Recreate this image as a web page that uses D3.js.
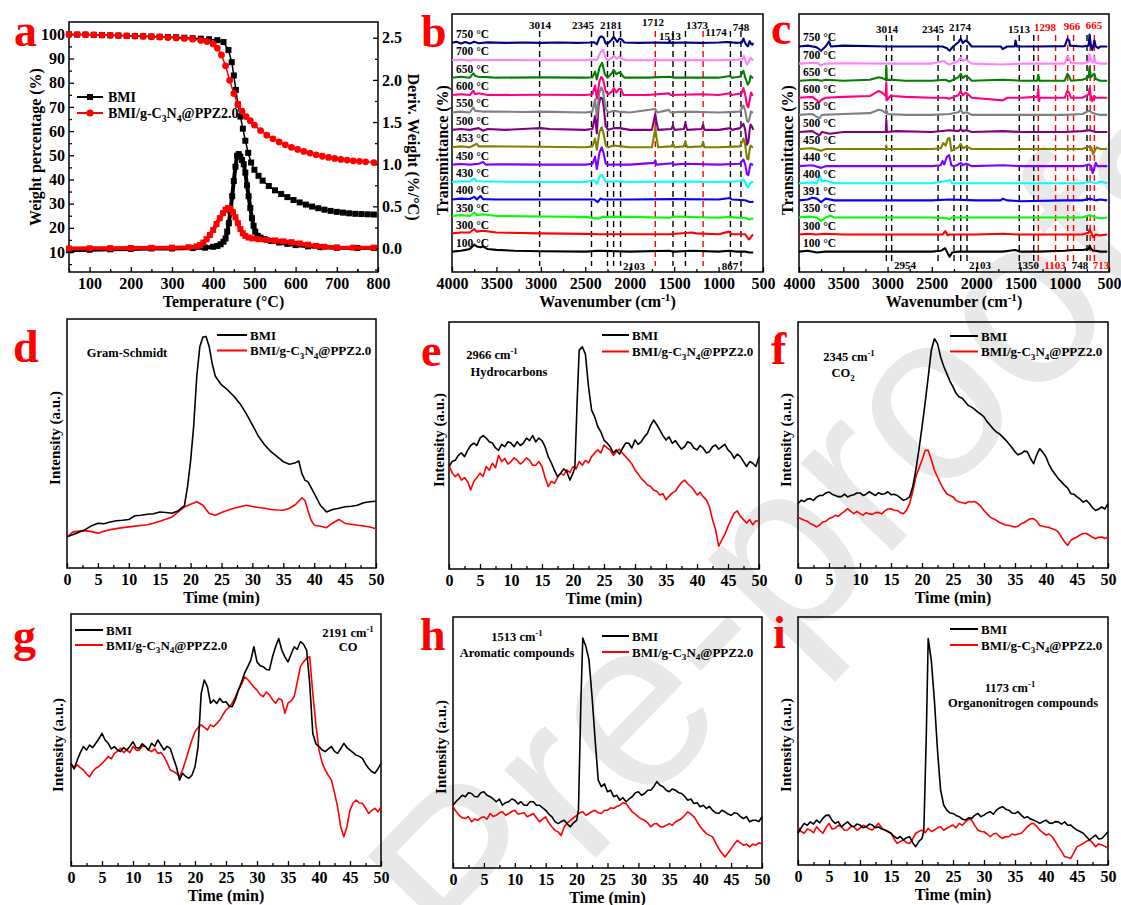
<!DOCTYPE html>
<html><head><meta charset="utf-8">
<script src="https://cdn.jsdelivr.net/npm/d3@7"></script>
<style>body{margin:0;background:#fff}</style>
</head><body>
<script>
// ================= DATA =================
// (a) TGA / DTG
const tgaBmiT = [50,70,90,110,130,150,170,190,210,230,250,270,290,310,330,350,370,390,410,425,437,445,450,455,460,466,472,478,485,492,500,510,520,535,550,565,580,595,610,625,640,655,670,685,700,715,730,745,760,775,790];
const tgaBmiW = [100,99.9,99.9,99.8,99.7,99.6,99.5,99.4,99.3,99.2,99.1,99,98.9,98.8,98.6,98.4,98.2,98,97.6,96.8,93.5,88.5,83,77,71,66,61,56,51,47,44,41.5,39.5,37.3,35.5,34,32.7,31.5,30.5,29.6,28.8,28.1,27.5,27,26.6,26.3,26,25.8,25.7,25.6,25.5];
const tgaPpzT = [50,70,90,110,130,150,170,190,210,230,250,270,290,310,330,350,370,385,400,410,420,430,440,450,460,470,480,490,500,515,530,545,560,575,590,605,620,635,650,665,680,695,710,725,740,755,770,790];
const tgaPpzW = [100,99.9,99.9,99.8,99.7,99.6,99.5,99.4,99.3,99.2,99,98.9,98.7,98.5,98.3,98,97.5,97,96,94.3,91.5,87,81,75.5,71,68.2,66,64.3,62.5,60.2,58.3,56.8,55.5,54.3,53.3,52.4,51.6,50.9,50.2,49.6,49.1,48.7,48.3,48,47.7,47.5,47.3,47];
const dtgBmiT = [50,100,150,200,250,300,350,380,400,410,418,425,430,434,438,442,446,450,454,458,462,466,470,474,478,482,486,490,494,498,502,508,515,525,540,560,580,600,630,660,700,750,790];
const dtgBmiV = [-0.02,-0.015,-0.01,-0.005,0,0,0.005,0.01,0.02,0.03,0.05,0.08,0.12,0.2,0.3,0.44,0.62,0.8,0.97,1.1,1.12,1.09,1.05,1.0,0.9,0.75,0.62,0.48,0.36,0.27,0.2,0.15,0.13,0.11,0.09,0.07,0.055,0.04,0.025,0.015,0.008,0.005,0.005];
const dtgPpzT = [50,100,150,200,250,300,340,360,368,376,384,392,400,408,416,424,430,436,442,448,454,460,466,472,478,486,495,510,530,550,570,590,610,630,650,670,700,740,790];
const dtgPpzV = [0,0.002,0.004,0.006,0.008,0.01,0.015,0.025,0.04,0.07,0.11,0.16,0.22,0.29,0.36,0.42,0.46,0.48,0.47,0.43,0.37,0.3,0.23,0.18,0.15,0.13,0.12,0.11,0.1,0.095,0.085,0.075,0.06,0.045,0.03,0.02,0.012,0.01,0.01];
const tempTicks = [100,200,300,400,500,600,700,800];
const weightTicks = [10,20,30,40,50,60,70,80,90,100];
const derivTicks = [0,0.5,1.0,1.5,2.0,2.5];

// (b),(c) FTIR spectra: [wavenumber, offset-relative signal]
const bTemps = ["100 °C","300 °C","350 °C","400 °C","430 °C","450 °C","453 °C","500 °C","550 °C","600 °C","650 °C","700 °C","750 °C"];
const cTemps = ["100 °C","300 °C","350 °C","391 °C","400 °C","440 °C","450 °C","500 °C","550 °C","600 °C","650 °C","700 °C","750 °C"];
const b100 = [[4000,0],[3900,0.05],[3850,0.1],[3800,0.15],[3750,0.4],[3720,0.3],[3680,0.25],[3650,0.3],[3600,0.15],[3500,0.1],[3300,0.05],[3000,0.02],[2500,0],[2350,0.05],[2000,0],[1560,0.05],[1500,0],[1300,0.05],[1000,0],[880,0.05],[800,0],[700,0],[650,-0.05],[610,-0.05]];
const b300 = [[4000,0.05],[3900,0.1],[3800,0.1],[3750,0.3],[3720,0.15],[3650,0.2],[3500,0.1],[3000,0.05],[2500,0.02],[2350,0],[2000,0],[1550,0],[1300,0.1],[1250,0.05],[1000,0],[880,0.15],[850,0],[700,0],[660,-0.3],[640,-0.2],[620,-0.05],[610,-0.05]];
const b350 = [[4000,0.05],[3900,0.1],[3800,0.05],[3750,0.25],[3720,0.1],[3650,0.15],[3500,0.05],[3000,0.02],[2500,0],[2350,-0.1],[2300,0],[2000,0],[1550,-0.05],[1500,0.02],[1000,-0.05],[870,0],[800,-0.05],[700,-0.05],[650,-0.15],[620,-0.1],[610,-0.1]];
const b400 = [[4000,0],[3900,0.05],[3800,0.03],[3750,0.15],[3720,0],[3680,0.2],[3650,0.02],[3500,0],[3000,0],[2500,0],[2400,0],[2360,-0.15],[2330,0.05],[2300,0],[2000,0],[1500,0.02],[1000,0],[870,0.08],[850,0],[700,-0.05],[650,-0.15],[620,-0.15],[610,-0.1]];
const b430 = [[4000,0],[3900,0.05],[3800,0.02],[3750,0.2],[3720,0.05],[3600,0.03],[3000,0],[2500,0],[2400,0.1],[2370,-0.1],[2340,0.3],[2315,0.42],[2290,0.2],[2270,0],[2180,0.05],[2000,0],[1500,0.03],[1000,0],[760,0.05],[720,0.15],[700,0],[680,-0.25],[665,-0.3],[650,-0.1],[630,0],[610,0]];
const b450 = [[4000,0],[3900,0.04],[3800,0],[3700,0.05],[3650,0.15],[3620,0],[3500,0.02],[3000,0],[2500,0],[2420,0.05],[2390,0.45],[2370,-0.25],[2340,0.7],[2315,1.0],[2295,0.7],[2270,0.05],[2240,0],[2000,0],[1725,0.1],[1712,0.25],[1700,0],[1513,0.08],[1500,0],[1373,0.05],[1000,0],[760,0.05],[720,0.3],[700,0],[680,-0.55],[665,-0.6],[650,-0.2],[640,0.05],[620,0],[610,0]];
const b453 = [[4000,0],[3900,0.05],[3800,0],[3720,0.2],[3700,0.05],[3600,0.05],[3000,0.03],[2500,0],[2420,0.05],[2390,0.5],[2370,-0.15],[2340,0.9],[2315,1.15],[2295,0.8],[2270,0.1],[2240,0],[2180,0.1],[2100,0.05],[2000,0],[1750,0],[1725,0.7],[1712,1.15],[1700,0.6],[1680,0],[1530,0.05],[1513,0.2],[1495,0],[1390,0.05],[1373,0.35],[1355,0],[1190,0.05],[1174,0.3],[1160,0],[1000,0],[760,0.05],[720,0.5],[700,0.1],[680,-0.65],[665,-0.7],[650,-0.1],[640,0.1],[620,0],[610,0]];
const b500 = [[4000,0],[3900,0.05],[3800,0],[3700,0.1],[3650,-0.05],[3600,0.05],[3400,0],[3100,0.08],[3000,0.1],[2900,0.05],[2500,0],[2420,0.05],[2390,0.8],[2370,-0.2],[2350,1.4],[2330,1.85],[2305,1.8],[2290,1.2],[2270,0.2],[2240,0],[2180,0.1],[2110,0.1],[2000,0],[1750,0],[1725,0.6],[1712,0.9],[1700,0.5],[1680,0],[1530,0.05],[1513,0.25],[1495,0],[1390,0.05],[1373,0.4],[1355,0],[1190,0.05],[1174,0.3],[1160,0],[1000,0],[867,0.1],[850,0],[760,0.1],[720,0.35],[700,0],[680,-0.85],[665,-0.7],[650,0],[640,0.3],[625,0.2],[610,0]];
const b550 = [[4000,0],[3900,0.05],[3800,0],[3760,0.3],[3740,0.1],[3650,0.05],[3500,0.05],[3200,0.03],[3000,0.05],[2500,0],[2420,0.05],[2390,0.75],[2370,-0.3],[2345,1.1],[2320,1.45],[2300,1.2],[2270,0.2],[2240,0],[2180,0.1],[2120,0.05],[2000,0],[1712,0.2],[1690,0],[1560,0.15],[1540,0],[1373,0.05],[1000,0],[760,0.05],[720,0.4],[700,0.1],[680,-0.5],[665,-0.55],[650,-0.3],[635,0.05],[620,0],[610,0]];
const b600 = [[4000,0],[3900,0.05],[3800,0],[3760,0.25],[3740,0.05],[3700,0.1],[3600,0],[3000,0.02],[2500,0],[2420,0.05],[2390,0.55],[2370,-0.2],[2340,0.8],[2320,1.05],[2300,0.9],[2270,0.2],[2240,0.05],[2200,0.2],[2180,0.4],[2150,0.15],[2120,0.35],[2100,0.35],[2070,0],[1800,0],[1560,0.1],[1540,0],[1200,0.05],[1000,0],[870,0.1],[850,0],[740,0.1],[720,0.4],[700,0],[680,-0.6],[665,-0.7],[650,-0.3],[635,0.15],[620,0],[610,0]];
const b650 = [[4000,0],[3900,0.05],[3800,0],[3760,0.25],[3740,0.1],[3700,0.05],[3600,0.03],[3500,0],[3000,0.02],[2500,0],[2420,0.02],[2390,0.35],[2370,-0.1],[2340,0.6],[2310,0.85],[2280,0.2],[2250,0],[2200,0.25],[2180,0.45],[2150,0.2],[2120,0.3],[2100,0.25],[2060,0],[1800,0],[1550,0.05],[1500,0],[1000,0],[870,0.1],[850,0],[760,0.05],[720,0.4],[700,0],[670,-0.4],[650,-0.2],[640,0.1],[620,0],[610,0]];
const b700 = [[4000,0],[3900,0.04],[3800,-0.02],[3750,0.05],[3700,0],[3500,0.02],[3000,0],[2500,0],[2400,0.05],[2370,0],[2330,0.45],[2300,0.6],[2270,0.1],[2240,0],[2200,0.15],[2175,0.25],[2150,0.1],[2120,0.2],[2090,0.1],[2050,0],[1750,0],[1712,0.05],[1680,0],[1500,0.02],[1000,0],[800,0.03],[730,0.05],[715,0.25],[700,0],[680,-0.25],[660,-0.1],[640,0.15],[625,0.05],[610,0]];
const b750 = [[4000,0],[3950,0.06],[3900,-0.04],[3850,0.05],[3800,-0.03],[3750,0.06],[3700,-0.02],[3600,0.03],[3400,0],[3200,0.02],[3000,0],[2800,0.02],[2600,0],[2450,0.02],[2400,0.04],[2370,-0.08],[2340,0.3],[2320,0.38],[2295,0.3],[2270,-0.05],[2240,0],[2200,0.2],[2181,0.35],[2160,0.2],[2140,0.05],[2115,0.25],[2090,0.2],[2060,0.02],[1900,0],[1700,0.02],[1560,0],[1550,0.15],[1540,0],[1400,0.02],[1200,0],[1000,0.02],[900,0.05],[800,0],[740,0.02],[720,0.25],[705,0.05],[690,-0.1],[670,-0.2],[650,0.1],[635,-0.05],[620,-0.1],[610,0]];
const c100 = [[4000,0],[3900,0.05],[3800,-0.05],[3700,0],[3500,0],[3000,0],[2500,0],[2400,0.05],[2350,0.2],[2320,-0.1],[2300,-0.3],[2270,-0.05],[2200,0],[2000,0],[1700,0],[1560,0.1],[1500,0],[1300,0],[1000,0.05],[900,0.1],[800,0.1],[730,0.15],[720,0.35],[700,0.15],[680,0.05],[650,0.05],[600,0],[520,0]];
const c300 = [[4000,0],[3900,0.05],[3800,0],[3700,0.05],[3500,0],[3000,0],[2500,0],[2380,0],[2350,0.2],[2320,-0.05],[2300,0],[2000,0],[1700,0.05],[1500,0],[1000,0],[800,0],[730,0.1],[720,0.3],[700,0.1],[680,-0.15],[650,0],[600,-0.05],[520,0]];
const c350 = [[4000,0],[3900,0.05],[3800,0],[3750,-0.2],[3700,0],[3650,0.1],[3600,0],[3000,0],[2500,0],[2330,-0.05],[2300,-0.1],[2270,0],[2000,0],[1700,0],[1500,0],[1000,0],[800,0],[720,0.15],[700,0.1],[650,0],[600,-0.05],[520,0]];
const c391 = [[4000,0],[3900,0.05],[3850,0.15],[3800,0.1],[3750,-0.1],[3700,0.1],[3600,0],[3000,0],[2500,0],[2300,0.05],[2000,0],[1720,0],[1700,0.1],[1650,0],[1500,-0.05],[1000,0],[800,0],[720,0.1],[650,0],[600,0.05],[520,0]];
const c400 = [[4000,0],[3850,0.05],[3800,0],[3760,0.4],[3740,0.1],[3700,0.15],[3600,0],[3000,0],[2500,0],[2320,0.15],[2300,0.2],[2270,0],[2000,0],[1700,0],[1500,0],[1000,0],[800,0],[720,0.1],[650,0],[600,0.1],[520,0]];
const c440 = [[4000,0],[3850,0.05],[3750,-0.1],[3700,0],[3500,0],[3000,0],[2500,0],[2400,0.05],[2380,0.3],[2360,0.1],[2330,0.55],[2305,0.65],[2280,0.05],[2250,0],[2200,0.1],[2174,0.2],[2150,0.05],[2110,0.15],[2050,0],[1700,0.05],[1500,0],[1000,0],[800,0],[730,0.1],[700,0],[685,-0.4],[670,-0.2],[650,0.2],[630,0],[520,0]];
const c450 = [[4000,0],[3850,0.05],[3750,-0.1],[3700,0],[3500,0],[3020,0],[3014,0.2],[3008,0],[2500,0],[2400,0.05],[2370,0.35],[2345,0.2],[2320,0.6],[2300,0.65],[2280,-0.1],[2250,0],[2200,0.1],[2174,0.3],[2150,0.05],[2110,0.15],[2050,0],[1700,0],[1500,0],[1000,0],[800,0],[720,0.15],[700,0.1],[680,-0.3],[660,-0.1],[640,0.1],[600,0],[520,0]];
const c500 = [[4000,0],[3850,0.05],[3770,-0.2],[3740,0],[3650,-0.1],[3500,0],[3020,0],[3014,0.7],[3008,0],[2900,0.05],[2500,0],[2300,0.1],[2200,0.05],[2174,0.15],[2150,0.05],[2110,0.1],[2050,0],[1700,0.05],[1500,0],[1000,0],[800,0.05],[720,0.1],[650,0],[520,0]];
const c550 = [[4000,0],[3850,0.05],[3770,-0.2],[3740,0],[3500,0.05],[3200,0.1],[3100,0.3],[3060,0.25],[3020,0.1],[3014,0.3],[3000,0.05],[2800,0],[2500,0],[2300,0.05],[2200,0.15],[2174,0.3],[2150,0.1],[2110,0.15],[2050,0],[1700,0],[1500,0],[1000,0],[800,0.05],[720,0.25],[700,0.15],[650,0.05],[600,0],[520,0]];
const c600 = [[4000,0],[3850,0.05],[3770,-0.25],[3740,-0.1],[3700,0],[3500,0.05],[3200,0.1],[3100,0.4],[3060,0.3],[3020,0.1],[3014,0.9],[3008,-0.15],[2960,0.15],[2940,0.1],[2800,0.05],[2500,0],[2350,0],[2300,-0.05],[2200,0.15],[2174,0.4],[2150,0.15],[2120,0.3],[2090,0.2],[2050,0],[1700,-0.15],[1650,0],[1500,0],[1310,0.05],[1298,0.5],[1290,-0.2],[1280,0],[1000,0],[970,0.4],[950,0.3],[930,0],[800,0],[730,0.2],[720,0.55],[705,0.1],[690,-0.2],[670,0.1],[650,0],[600,0],[520,0]];
const c650 = [[4000,0],[3800,0.05],[3750,0],[3700,0.05],[3500,0],[3200,0.05],[3100,0.2],[3060,0.15],[3020,0.05],[3014,0.8],[3008,0.05],[2950,0.05],[2800,0],[2500,0],[2350,0.05],[2300,-0.05],[2200,0.2],[2174,0.4],[2150,0.15],[2120,0.3],[2090,0.2],[2050,0],[1700,0.05],[1500,0],[1310,0],[1298,0.35],[1285,0],[1000,0],[970,0.4],[950,0.25],[930,0],[800,0.05],[730,0.2],[720,0.8],[705,0.2],[680,0.35],[665,0.4],[650,0.1],[600,0],[520,0]];
const c700 = [[4000,0],[3800,0.05],[3750,-0.1],[3700,0],[3500,0.02],[3000,0],[2500,0],[2360,0.15],[2330,0],[2300,-0.05],[2200,0.15],[2174,0.35],[2150,0.15],[2120,0.25],[2090,0.15],[2050,0],[1700,-0.05],[1500,0],[1300,0],[1000,0],[970,0.4],[950,0.3],[930,0.05],[800,0],[730,0.1],[720,0.55],[700,0.15],[680,0.05],[665,0.35],[650,0.05],[600,0],[520,0]];
const c750 = [[4000,0],[3900,0.05],[3800,-0.05],[3750,-0.25],[3700,0],[3660,0.3],[3640,0],[3500,0.05],[3000,0],[2600,0],[2450,0],[2380,0],[2330,-0.1],[2300,-0.25],[2260,0],[2200,0.25],[2174,0.45],[2150,0.2],[2120,0.35],[2090,0.25],[2050,0],[1720,0],[1700,-0.15],[1650,0],[1565,0],[1555,0.35],[1540,0],[1300,0],[1000,0.02],[970,0.45],[950,0.35],[940,0.05],[800,0],[730,0.05],[720,0.7],[705,0.1],[690,-0.2],[675,0.1],[665,0.35],[650,0],[620,-0.1],[600,0],[520,0]];
const wnTicks = [4000,3500,3000,2500,2000,1500,1000,500];
const bBlackMarks = [3014,2430,2250,2181,2103,1513,1373,867,748];
const bRedMarks = [1712,1174];
const cBlackMarks = [3014,2954,2430,2250,2174,2103,1513,1350,748];
const cRedMarks = [1298,1103,966,900,713,665];

// (d)-(i) TG-FTIR time profiles: [time (min), relative intensity]
const timeTicks = [0,5,10,15,20,25,30,35,40,45,50];
const dBmi = [[0,12.5],[1,13.5],[2,14.5],[3,15.5],[4,17],[5,18],[6,17.8],[7,18.5],[8,19],[9,19.2],[10,19.5],[11,21],[12,21.2],[13,21.6],[14,21.8],[15,22.5],[16,22.3],[17,22],[18,23],[18.5,24],[19,25],[19.5,32.6],[20,43],[20.5,57],[21,77],[21.5,89],[22,92.8],[22.5,93],[23,89],[23.5,82],[24,77],[25,73.5],[26,71.5],[27,69],[28,66],[29,62],[30,57.5],[31,52.8],[32,49.4],[33,46.7],[34,44.7],[35,42.7],[36,41.7],[37,42.3],[37.5,43],[38,38],[38.5,35.3],[39,34.6],[40,30],[41,25.2],[42,22.5],[43,23.5],[44,24],[45,24.6],[46,24.8],[47,25.2],[48,26.2],[49,26.6],[50,26.8]];
const dPpz = [[0,12.5],[0.5,13.5],[1,14.5],[2,14.8],[3,15],[4,14.6],[5,14],[6,14.8],[7,15.4],[8,15.8],[9,16.2],[10,16.5],[11,16.8],[12,17.1],[13,17.4],[14,18],[15,18.8],[16,19.6],[17,20.5],[18,22.5],[19,24.5],[20,25.6],[21,26.6],[22,25.2],[23,21.9],[24,21.2],[25,22.3],[26,23.2],[27,24],[28,24.6],[29,25.2],[30,24.7],[31,24.3],[32,24],[33,23.5],[34,23.3],[35,23.2],[36,24],[37,25.5],[38,28.2],[38.5,27.2],[39,23],[39.5,19.2],[40,17.2],[41,16.8],[42,16.2],[43,18.1],[44,19.5],[45,17.9],[46,17.6],[47,17.2],[48,16.9],[49,16.5],[50,15.8]];
const eBmi = [[0,41.5],[0.5,43.5],[1,44],[1.5,46],[2,47],[2.5,45.5],[3,48],[3.5,50],[4,51],[4.5,50],[5,53],[5.5,54],[6,53],[6.5,51.5],[7,51],[7.5,49],[8,48],[8.5,50.5],[9,49.5],[9.5,51.5],[10,51],[10.5,49.5],[11,51.5],[11.5,50],[12,51],[12.5,53],[13,52],[13.5,54],[14,51.5],[14.5,53],[15,52],[15.5,49.5],[16,45.5],[16.5,43],[17,40],[17.5,37.4],[18,38.8],[18.5,40.5],[19,39.4],[19.5,36],[20,38.8],[20.3,41],[20.7,70],[21,88.6],[21.5,90],[22,87],[22.5,73.8],[23,64.3],[23.5,61.6],[24,57.6],[24.5,55.5],[25,52.2],[25.5,51],[26,49.5],[26.5,47],[27,48.2],[27.5,46.5],[28,48.9],[28.5,51],[29,50.9],[29.5,49],[30,52.2],[30.5,50.5],[31,51.5],[31.5,53.5],[32,54.9],[32.5,58],[33,60.3],[33.5,58.5],[34,56.3],[34.5,54],[35,52.2],[35.5,53.5],[36,50.9],[36.5,52],[37,50.2],[37.5,48.5],[38,49.5],[38.5,51.5],[39,50.9],[39.5,49],[40,48.2],[40.5,50],[41,48.9],[41.5,47],[42,47.5],[42.5,49.5],[43,50.2],[43.5,48.5],[44,49.5],[44.5,50.5],[45,48.2],[45.5,47],[46,44.8],[46.5,46.5],[47,45.5],[47.5,43.5],[48,41.5],[48.5,43.5],[49,42.8],[49.5,41.5],[50,45.5]];
const ePpz = [[0,42],[0.5,39],[1,37.4],[1.5,38.5],[2,36],[2.5,37],[3,35.4],[3.5,32],[4,35.4],[4.5,37],[5,38.8],[5.5,37.5],[6,41.5],[6.5,40],[7,42.8],[7.5,41],[8,46],[8.5,43.5],[9,44.8],[9.5,42.5],[10,43.5],[10.5,45],[11,44],[11.5,42.5],[12,43.5],[12.5,45],[13,44],[13.5,42],[14,42],[14.5,43.5],[15,41.5],[15.5,37],[16,33.4],[16.5,35.5],[17,34.7],[17.5,37],[18,38.8],[18.5,38],[19,40.1],[19.5,39],[20,41.5],[20.5,40.5],[21,43.5],[21.5,42],[22,44],[22.5,43],[23,45.5],[23.5,47],[24,48.2],[24.5,47],[25,50.2],[25.5,49],[26,48.2],[26.5,46],[27,47.5],[27.5,48.5],[28,46.8],[28.5,45.5],[29,44],[29.5,42.5],[30,40.1],[30.5,38.5],[31,36.7],[31.5,35.5],[32,34],[32.5,33.5],[33,32],[33.5,31.5],[34,30],[34.5,30.5],[35,28],[35.5,29.5],[36,30.7],[36.5,31.5],[37,33.4],[37.5,35],[38,36],[38.5,34.5],[39,33.4],[39.5,32],[40,30],[40.5,31],[41,29.3],[41.5,28],[42,25.3],[42.5,20],[43,15.9],[43.5,9.2],[44,11.8],[44.5,14],[45,17.2],[45.5,20],[46,22.6],[46.5,23.5],[47,21.3],[47.5,20],[48,18.6],[48.5,20],[49,17.9],[49.5,19.5],[50,19.2]];
const fBmi = [[0,26.2],[0.5,27.5],[1,27],[1.5,28],[2,28.2],[2.5,27.5],[3,28.8],[3.5,29.5],[4,29.5],[4.5,30.5],[5,30.9],[5.5,30],[6,29.5],[6.5,29],[7,29],[7.5,30],[8,28.9],[8.5,29.5],[9,29.8],[9.5,30.5],[10,30.5],[10.5,29.5],[11,30],[11.5,31],[12,30.2],[12.5,29.5],[13,30.6],[13.5,30],[14,30.2],[14.5,31],[15,29.8],[15.5,30],[16,29.5],[16.5,28.5],[17,27.5],[17.5,28],[18,28.9],[18.5,33],[19,39.7],[19.5,48],[20,57.3],[20.5,67],[21,77.6],[21.5,88.5],[22,93.2],[22.5,91.2],[23,85.8],[23.5,82],[24,79],[24.5,76],[25,73.6],[25.5,71],[26,69.5],[26.5,69],[27,67.5],[27.5,66],[28,65.4],[28.5,64.5],[29,63.4],[29.5,62.5],[30,61.4],[30.5,59.5],[31,58],[31.5,56.5],[32,55.3],[32.5,54.5],[33,53.3],[33.5,52],[34,50.5],[34.5,49],[35,47.2],[35.5,46],[36,46.5],[36.5,47.5],[37,47.2],[37.5,44.5],[38,42.4],[38.5,46],[39,48.5],[39.5,47],[40,45.1],[40.5,42],[41,39.7],[41.5,38],[42,36.3],[42.5,35],[43,33.6],[43.5,32.5],[44,30.2],[44.5,30],[45,28.9],[45.5,28],[46,26.8],[46.5,27.5],[47,26.2],[47.5,24.5],[48,23.4],[48.5,24],[49,24.8],[49.5,24],[50,26.2]];
const fPpz = [[0,20.7],[0.5,20],[1,19.4],[1.5,19],[2,18],[2.5,17.5],[3,16.7],[3.5,17.5],[4,18.7],[4.5,19],[5,20.1],[5.5,20.5],[6,21.4],[6.5,21],[7,22.1],[7.5,23],[8,24.1],[8.5,23],[9,22.1],[9.5,23],[10,22.1],[10.5,21.5],[11,22.5],[11.5,22],[12,21.8],[12.5,22.5],[13,22.6],[13.5,22],[14,23.2],[14.5,24],[15,24.1],[15.5,23.5],[16,23.4],[16.5,22.5],[17,22.1],[17.5,23.5],[18,26.2],[18.5,31],[19,37],[19.5,40.5],[20,43.8],[20.5,47.8],[21,47.8],[21.5,44],[22,39.7],[22.5,37],[23,34.3],[23.5,32],[24,30.2],[24.5,29.5],[25,28.9],[25.5,27.5],[26,26.8],[26.5,26.5],[27,26.2],[27.5,27],[28,26.8],[28.5,27],[29,26.2],[29.5,25],[30,23.4],[30.5,22],[31,20.7],[31.5,20],[32,19.4],[32.5,18.5],[33,18],[33.5,17.5],[34,17.3],[34.5,17],[35,16.7],[35.5,17],[36,18],[36.5,18.5],[37,19.4],[37.5,20],[38,20.1],[38.5,19],[39,17.3],[39.5,17],[40,16.7],[40.5,16.5],[41,16],[41.5,15.5],[42,14.6],[42.5,12.5],[43,10.6],[43.5,9.2],[44,11.2],[44.5,12],[45,12.6],[45.5,13.5],[46,14],[46.5,14],[47,13.3],[47.5,12.5],[48,11.9],[48.5,12.5],[49,12.6],[49.5,12],[50,12.6]];
const gBmi = [[0,40.7],[0.5,38.5],[1,42],[1.5,45],[2,47.4],[2.5,46],[3,48],[3.5,47],[4,48.7],[4.5,50.5],[5,52.6],[5.5,50],[6,48.7],[6.5,46.5],[7,47.4],[7.5,46],[8,45.4],[8.5,47],[9,46],[9.5,47.5],[10,49.3],[10.5,47],[11,46.7],[11.5,48.5],[12,47.4],[12.5,46],[13,48.7],[13.5,47.5],[14,50],[14.5,48],[15,46],[15.5,47.5],[16,46.7],[16.5,43],[17,39.4],[17.5,34.1],[18,36.8],[18.5,35.5],[19,34.8],[19.5,36],[20,39.4],[20.5,47.4],[21,68.5],[21.5,73.8],[22,71.2],[22.5,64.6],[23,65.9],[23.5,64.5],[24,66.5],[24.5,65],[25,65.2],[25.5,63.5],[26,63.2],[26.5,66],[27,69.8],[27.5,73],[28,76.5],[28.5,79],[29,81.7],[29.5,87],[30,81],[30.5,79.5],[31,79.1],[31.5,78],[32,77.8],[32.5,83],[33,87],[33.5,90.3],[34,85.7],[34.5,83],[35,81],[35.5,84],[36,87],[36.5,86],[37,89],[37.5,88],[38,85.7],[38.5,72.5],[39,52.6],[39.5,48.5],[40,47.4],[40.5,46],[41,45.4],[41.5,46.5],[42,47.4],[42.5,45.5],[43,44.7],[43.5,46.5],[44,48.7],[44.5,47],[45,46],[45.5,45],[46,44],[46.5,43.5],[47,42.7],[47.5,40.5],[48,38.8],[48.5,37.5],[49,36.8],[49.5,38.5],[50,40.7]];
const gPpz = [[0,40.7],[0.5,39],[1,40.1],[1.5,39],[2,38.1],[2.5,36.5],[3,35.4],[3.5,37.5],[4,38.8],[4.5,39.5],[5,40.7],[5.5,42],[6,43.4],[6.5,42.5],[7,44.7],[7.5,45.5],[8,46.7],[8.5,45],[9,46],[9.5,45],[10,47.4],[10.5,46],[11,46],[11.5,47.5],[12,47.4],[12.5,46],[13,45.4],[13.5,46.5],[14,44.7],[14.5,45],[15,43.4],[15.5,41],[16,38.1],[16.5,37.5],[17,36.8],[17.5,35.4],[18,38.1],[18.5,42],[19,46],[19.5,50],[20,53.3],[20.5,55],[21,56],[21.5,55],[22,54],[22.5,56],[23,55.3],[23.5,56.5],[24,57.9],[24.5,60],[25,61.9],[25.5,63],[26,64.6],[26.5,67],[27,69.8],[27.5,72],[28,75.1],[28.5,74],[29,72.5],[29.5,71],[30,69.8],[30.5,68],[31,67.2],[31.5,69],[32,67.9],[32.5,66],[33,64.6],[33.5,66.5],[34,65.9],[34.5,60.6],[35,64.6],[35.5,65.5],[36,67.2],[36.5,73],[37,79.1],[37.5,81],[38,82.4],[38.5,83.1],[39,68.5],[39.5,56],[40,46],[40.5,41],[41,38.1],[41.5,36],[42,34.1],[42.5,29],[43,23.5],[43.5,15.6],[44,11.6],[44.5,15.6],[45,22.2],[45.5,25],[46,26.2],[46.5,25],[47,24.9],[47.5,23],[48,20.9],[48.5,22],[49,22.9],[49.5,21.5],[50,23.5]];
const hBmi = [[0,25],[0.5,26.5],[1,27.7],[1.5,29],[2,28.4],[2.5,30],[3,29.7],[3.5,28.5],[4,28.4],[4.5,30],[5,30.4],[5.5,29],[6,28.4],[6.5,27.5],[7,26.4],[7.5,27.5],[8,25],[8.5,26],[9,26.4],[9.5,27.5],[10,27],[10.5,25.5],[11,26.4],[11.5,25],[12,25],[12.5,26.5],[13,26.4],[13.5,25],[14,25],[14.5,24],[15,23],[15.5,21.5],[16,20.4],[16.5,18.5],[17,17.7],[17.5,18.5],[18,19],[18.5,17.5],[19,16.4],[19.5,18],[20,19],[20.3,23],[20.7,67],[21,91.6],[21.5,88.3],[22,83],[22.5,68.3],[23,51],[23.5,35],[24,32.4],[24.5,33.5],[25,30.4],[25.5,31],[26,28.4],[26.5,29],[27,27],[27.5,28],[28,26.4],[28.5,27.5],[29,28.4],[29.5,30],[30,30.4],[30.5,29],[31,29.7],[31.5,31],[32,31],[32.5,32.5],[33,34.4],[33.5,33],[34,32.4],[34.5,31],[35,30.4],[35.5,31.5],[36,31],[36.5,30],[37,29.7],[37.5,28.5],[38,27],[38.5,27.5],[39,25.7],[39.5,26],[40,24.4],[40.5,25],[41,23.7],[41.5,24.5],[42,23],[42.5,22],[43,21.7],[43.5,23],[44,22.4],[44.5,21.5],[45,21],[45.5,22],[46,21.7],[46.5,20.5],[47,19.7],[47.5,20.5],[48,18.4],[48.5,19],[49,19],[49.5,18.5],[50,20.4]];
const hPpz = [[0,24.4],[0.5,22.5],[1,21],[1.5,20],[2,19.7],[2.5,20.5],[3,18.4],[3.5,19.5],[4,19],[4.5,20],[5,20.4],[5.5,19.5],[6,21.7],[6.5,20.5],[7,21],[7.5,22],[8,22.4],[8.5,21],[9,21.7],[9.5,22.5],[10,23],[10.5,21.5],[11,21.7],[11.5,22],[12,20.4],[12.5,21],[13,21.7],[13.5,20],[14,18.4],[14.5,19.5],[15,20.4],[15.5,18],[16,16.4],[16.5,15],[17,14.4],[17.5,13],[18,16.4],[18.5,18],[19,19],[19.5,20],[20,21],[20.5,22],[21,22.4],[21.5,21],[22,21.7],[22.5,22.5],[23,23],[23.5,22],[24,21.7],[24.5,23],[25,23],[25.5,24],[26,23.7],[26.5,24.5],[27,25],[27.5,26],[28,25.7],[28.5,24],[29,22.4],[29.5,21.5],[30,20.4],[30.5,19.5],[31,19],[31.5,18],[32,16.4],[32.5,17.5],[33,17.7],[33.5,16.5],[34,16.4],[34.5,17],[35,17.7],[35.5,17],[36,18.4],[36.5,19],[37,19.7],[37.5,21],[38,22.4],[38.5,21.5],[39,20.4],[39.5,18.5],[40,16.4],[40.5,15],[41,13.7],[41.5,13],[42,12.4],[42.5,10],[43,7.7],[43.5,6],[44,4.4],[44.5,6],[45,7.7],[45.5,9.5],[46,11],[46.5,10],[47,9.1],[47.5,9.5],[48,8.4],[48.5,9.5],[49,9.1],[49.5,10],[50,9.7]];
const iBmi = [[0,12.8],[0.5,15],[1,16.8],[1.5,16],[2,17.4],[2.5,16.5],[3,18.1],[3.5,17],[4,18.8],[4.5,20],[5,20.1],[5.5,18],[6,16.8],[6.5,17.5],[7,15.4],[7.5,16.5],[8,17.4],[8.5,16],[9,15.4],[9.5,16.5],[10,16.1],[10.5,15],[11,15.4],[11.5,16.5],[12,16.1],[12.5,15],[13,15.4],[13.5,14.5],[14,14.1],[14.5,13.5],[15,12.8],[15.5,11.5],[16,10.7],[16.5,11.5],[17,10.1],[17.5,11],[18,11.4],[18.5,9],[19,7.4],[19.5,9.5],[20,10.7],[20.3,14],[20.7,53],[21,91.3],[21.5,82.6],[22,66.4],[22.5,46.3],[23,30.2],[23.5,24.2],[24,22.1],[24.5,21],[25,20.8],[25.5,20],[26,19.5],[26.5,18.5],[27,18.1],[27.5,19],[28,18.8],[28.5,20],[29,20.8],[29.5,19.5],[30,20.1],[30.5,21],[31,21.5],[31.5,20.5],[32,22.1],[32.5,23],[33,23.5],[33.5,22.5],[34,22.1],[34.5,21],[35,20.8],[35.5,21.5],[36,20.1],[36.5,19],[37,19.5],[37.5,18.5],[38,18.1],[38.5,17.5],[39,16.8],[39.5,17.5],[40,18.1],[40.5,17],[41,16.8],[41.5,17.5],[42,17.4],[42.5,16.5],[43,17.4],[43.5,16],[44,16.1],[44.5,15],[45,14.1],[45.5,13.5],[46,12.8],[46.5,11.5],[47,10.1],[47.5,11],[48,12.1],[48.5,10.5],[49,10.7],[49.5,12],[50,13.4]];
const iPpz = [[0,15.4],[0.5,13.5],[1,12.8],[1.5,14.5],[2,14.1],[2.5,13],[3,15.4],[3.5,14],[4,12.8],[4.5,15],[5,16.8],[5.5,14.5],[6,14.8],[6.5,16],[7,15.4],[7.5,14],[8,14.1],[8.5,15.5],[9,15.4],[9.5,14],[10,14.8],[10.5,16],[11,15.4],[11.5,14.5],[12,14.1],[12.5,15.5],[13,16.8],[13.5,15],[14,14.1],[14.5,13.5],[15,12.8],[15.5,10.5],[16,8.7],[16.5,9.5],[17,10.1],[17.5,9],[18,8.7],[18.5,10.5],[19,12.8],[19.5,13.5],[20,14.1],[20.5,13],[21,14.8],[21.5,13.5],[22,14.1],[22.5,15],[23,15.4],[23.5,14],[24,14.8],[24.5,15.5],[25,16.1],[25.5,15],[26,16.8],[26.5,16],[27,17.4],[27.5,18.5],[28,18.1],[28.5,16],[29,14.1],[29.5,13.5],[30,13.4],[30.5,12.5],[31,11.4],[31.5,12.5],[32,12.8],[32.5,11.5],[33,10.7],[33.5,11.5],[34,11.4],[34.5,12.5],[35,12.1],[35.5,12.5],[36,12.8],[36.5,14],[37,15.4],[37.5,16.5],[38,16.8],[38.5,15.5],[39,14.1],[39.5,13],[40,12.1],[40.5,12.5],[41,11.4],[41.5,9.5],[42,7.4],[42.5,5.5],[43,3.4],[43.5,3],[44,2.7],[44.5,5],[45,7.4],[45.5,8],[46,8.7],[46.5,9.5],[47,10.1],[47.5,9],[48,7.4],[48.5,8.5],[49,8.1],[49.5,7.5],[50,6.7]];

// ================= DRAWING =================
const FONT = "'Liberation Serif','Times New Roman',serif";
const RED = '#ff0000';
const specColors = ['#000000','#ff0000','#00ff00','#0000ff','#00ffff','#8000ff','#808000','#800080','#808080','#ff0080','#008000','#ff80ff','#000080'];
const svg = d3.select('body').append('svg').attr('width',1121).attr('height',905)
  .style('display','block').style('background','#fff');

// watermark
svg.append('text').attr('transform','translate(473,985) rotate(-46)')
  .attr('font-family',"'Liberation Sans',Arial,sans-serif").attr('font-size',240)
  .attr('fill','#e8e8e8').text('Pre-proofs');

function rich(parent, x, y, parts, o) {
  const t = parent.append('text').attr('x',x).attr('y',y)
    .attr('font-family',FONT).attr('font-weight','bold').attr('font-size',o.size)
    .attr('text-anchor',o.anchor||'start').attr('fill',o.fill||'#000');
  if (o.transform) t.attr('transform',o.transform);
  let shift = 0;
  parts.forEach(p => {
    const ts = t.append('tspan');
    let target = 0, txt = p;
    if (typeof p !== 'string') { txt = p.t; target = p.sub ? o.size*0.3 : -o.size*0.4; ts.attr('font-size',o.size*0.7); }
    ts.attr('dy', target - shift); shift = target;
    ts.text(txt);
  });
  return t;
}
function frame(f) {
  svg.append('rect').attr('x',f.x0).attr('y',f.y0).attr('width',f.x1-f.x0).attr('height',f.y1-f.y0)
    .attr('fill','none').attr('stroke','#000').attr('stroke-width',1.5);
}
function styleAxis(g, fs) {
  g.select('.domain').remove();
  g.selectAll('line').attr('stroke','#000').attr('stroke-width',1.3);
  g.selectAll('text').attr('font-family',FONT).attr('font-weight','bold').attr('font-size',fs).attr('fill','#000');
}
function minorVals(major) {
  const out = [];
  for (let i=0;i<major.length-1;i++) out.push((major[i]+major[i+1])/2);
  return out;
}
function bottomAxis(f, x, major, fmt, extraMinor) {
  const g = svg.append('g').attr('transform',`translate(0,${f.y1})`);
  g.call(d3.axisBottom(x).tickValues(major).tickSize(-5).tickSizeOuter(0).tickPadding(6).tickFormat(fmt));
  styleAxis(g, 16);
  const gm = svg.append('g').attr('transform',`translate(0,${f.y1})`);
  gm.call(d3.axisBottom(x).tickValues(minorVals(major).concat(extraMinor||[])).tickSize(-3).tickSizeOuter(0).tickFormat(''));
  styleAxis(gm, 16);
}
function xTitle(f, parts) {
  rich(svg, (f.x0+f.x1)/2, f.y1+35, parts, {size:16, anchor:'middle'});
}
function yTitle(x, cy, parts, size) {
  rich(svg, 0, 0, parts, {size:size||16, anchor:'middle', transform:`translate(${x},${cy}) rotate(-90)`});
}
function letter(ch, x, y) {
  svg.append('text').attr('x',x).attr('y',y).attr('font-family',FONT).attr('font-weight','bold')
    .attr('font-size',46).attr('fill',RED).text(ch);
}
const ppzLabel = ['BMI/g-C',{t:'3',sub:true},'N',{t:'4',sub:true},'@PPZ2.0'];

// ---------- (a) ----------
const fa = {x0:69,x1:378,y0:22,y1:272};
const xa = d3.scaleLinear().domain([50,800]).range([fa.x0,fa.x1]);
const ya = d3.scaleLinear().domain([1.74,105.1]).range([fa.y1,fa.y0]);
const yd = d3.scaleLinear().domain([-0.279,2.687]).range([fa.y1,fa.y0]);
frame(fa);
bottomAxis(fa, xa, tempTicks, d3.format('d'), [50,750]);
{
  const gl = svg.append('g').attr('transform',`translate(${fa.x0},0)`);
  gl.call(d3.axisLeft(ya).tickValues(weightTicks).tickSize(-5).tickSizeOuter(0).tickPadding(4).tickFormat(d3.format('d')));
  styleAxis(gl,16);
  const glm = svg.append('g').attr('transform',`translate(${fa.x0},0)`);
  glm.call(d3.axisLeft(ya).tickValues(minorVals(weightTicks).concat([5])).tickSize(-3).tickFormat(''));
  styleAxis(glm,16);
  const gr = svg.append('g').attr('transform',`translate(${fa.x1},0)`);
  gr.call(d3.axisRight(yd).tickValues(derivTicks).tickSize(-5).tickSizeOuter(0).tickPadding(4).tickFormat(d3.format('.1f')));
  styleAxis(gr,16);
  const grm = svg.append('g').attr('transform',`translate(${fa.x1},0)`);
  grm.call(d3.axisRight(yd).tickValues(minorVals(derivTicks).concat([-0.25])).tickSize(-3).tickFormat(''));
  styleAxis(grm,16);
}
function drawSeries(T, V, ys, color, shape, lw) {
  const pts = T.map((t,i)=>[t,V[i]]);
  svg.append('path').datum(pts).attr('fill','none').attr('stroke',color).attr('stroke-width',lw)
    .attr('d', d3.line().x(d=>xa(d[0])).y(d=>ys(d[1])));
  const g = svg.append('g').attr('fill',color);
  if (shape==='sq') g.selectAll('rect').data(pts).join('rect')
      .attr('x',d=>xa(d[0])-3).attr('y',d=>ys(d[1])-3).attr('width',6).attr('height',6);
  else g.selectAll('circle').data(pts).join('circle')
      .attr('cx',d=>xa(d[0])).attr('cy',d=>ys(d[1])).attr('r',3.4);
}
drawSeries(dtgBmiT, dtgBmiV, yd, '#000', 'sq', 4);
drawSeries(dtgPpzT, dtgPpzV, yd, RED, 'sq', 4);
drawSeries(tgaBmiT, tgaBmiW, ya, '#000', 'sq', 1.5);
drawSeries(tgaPpzT, tgaPpzW, ya, RED, 'ci', 1.5);
// legend a
svg.append('line').attr('x1',77).attr('x2',103).attr('y1',97).attr('y2',97).attr('stroke','#000').attr('stroke-width',2);
svg.append('rect').attr('x',87).attr('y',94).attr('width',6).attr('height',6).attr('fill','#000');
rich(svg,108,102,['BMI'],{size:14});
svg.append('line').attr('x1',77).attr('x2',103).attr('y1',113).attr('y2',113).attr('stroke',RED).attr('stroke-width',2);
svg.append('circle').attr('cx',90).attr('cy',113).attr('r',3.6).attr('fill',RED);
rich(svg,108,118,ppzLabel,{size:14});
xTitle(fa, ['Temperature (°C)']);
yTitle(41, 147, ['Weight percentage (%)']);
rich(svg,0,0,['Deriv. Weight (%/°C)'],{size:16,anchor:'middle',transform:'translate(408,147) rotate(90)'});
letter('a',14,46);

// ---------- (b),(c) ----------
function spectraPanel(f, yDomain, temps, specs, blackMarks, redMarks, markY0, markY1) {
  const x = d3.scaleLinear().domain([4000,500]).range([f.x0,f.x1]);
  const y = d3.scaleLinear().domain(yDomain).range([f.y1,f.y0]);
  frame(f);
  bottomAxis(f, x, wnTicks, d3.format('d'));
  const dash = (wn, col) => svg.append('line').attr('x1',x(wn)).attr('x2',x(wn)).attr('y1',markY0).attr('y2',markY1)
      .attr('stroke',col).attr('stroke-width',1.4).attr('stroke-dasharray','6,4');
  blackMarks.forEach(w=>dash(w,'#000'));
  redMarks.forEach(w=>dash(w,RED));
  specs.forEach((s,i) => {
    svg.append('path').datum(s).attr('fill','none').attr('stroke',specColors[i]).attr('stroke-width',2.1)
      .attr('stroke-linejoin','round')
      .attr('d', d3.line().x(d=>x(d[0])).y(d=>y(i+d[1])));
    rich(svg, f.x0+4, y(i)-5, [temps[i]], {size:11.5});
  });
  return x;
}
const fb = {x0:452,x1:763,y0:14,y1:272};
spectraPanel(fb, [-1.17,13.66], bTemps, [b100,b300,b350,b400,b430,b450,b453,b500,b550,b600,b650,b700,b750], bBlackMarks, bRedMarks, 31, 266);
const bLab = (t,x,y,c)=>rich(svg,x,y,[t],{size:11,anchor:'middle',fill:c||'#000'});
bLab('3014',540,29); bLab('2345',583,29); bLab('2181',611,29); bLab('1712',653,26);
bLab('1513',670,40); bLab('1373',697,29); bLab('1174',716,36); bLab('748',741,31);
bLab('2103',634,270); bLab('867',730,270);
xTitle(fb, ['Wavenumber (cm',{t:'-1'},')']);
yTitle(448, 150, ['Transmittance (%)']);
letter('b',421,47);

const fc = {x0:799,x1:1109,y0:14,y1:272};
spectraPanel(fc, [-1.19,13.9], cTemps, [c100,c300,c350,c391,c400,c440,c450,c500,c550,c600,c650,c700,c750], cBlackMarks, cRedMarks, 35, 263);
bLab('3014',887,33); bLab('2345',933,33); bLab('2174',960,31); bLab('1513',1019,33);
bLab('1298',1045,31,RED); bLab('966',1072,30,RED); bLab('665',1094,29,RED);
bLab('2954',905,269); bLab('2103',980,269); bLab('1350',1028,269);
bLab('1103',1055,269,RED); bLab('748',1080,269); bLab('713',1101,269,RED);
xTitle(fc, ['Wavenumber (cm',{t:'-1'},')']);
yTitle(793, 150, ['Transmittance (%)']);
letter('c',771,44);

// ---------- (d)-(i) ----------
function timePanel(f, bmi, ppz, legend) {
  const x = d3.scaleLinear().domain([0,50]).range([f.x0,f.x1]);
  const y = d3.scaleLinear().domain([0,100]).range([f.y1,f.y0]);
  frame(f);
  bottomAxis(f, x, timeTicks, d3.format('d'));
  const ln = d3.line().x(d=>x(d[0])).y(d=>y(d[1]));
  svg.append('path').datum(ppz).attr('fill','none').attr('stroke',RED).attr('stroke-width',1.6).attr('stroke-linejoin','round').attr('d',ln);
  svg.append('path').datum(bmi).attr('fill','none').attr('stroke','#000').attr('stroke-width',1.6).attr('stroke-linejoin','round').attr('d',ln);
  const L = legend;
  svg.append('line').attr('x1',L.x0).attr('x2',L.x1).attr('y1',L.yb).attr('y2',L.yb).attr('stroke','#000').attr('stroke-width',2);
  svg.append('line').attr('x1',L.x0).attr('x2',L.x1).attr('y1',L.yr).attr('y2',L.yr).attr('stroke',RED).attr('stroke-width',2);
  rich(svg, L.x1+3, L.yb+4.5, ['BMI'], {size:13});
  rich(svg, L.x1+3, L.yr+4.5, ppzLabel, {size:13});
  xTitle(f, ['Time (min)']);
}
const fd = {x0:67,x1:376,y0:319,y1:568};
timePanel(fd, dBmi, dPpz, {x0:217,x1:247,yb:335,yr:350.5});
rich(svg,127,357,['Gram-Schmidt'],{size:12.5,anchor:'middle'});
yTitle(60, 438, ['Intensity (a.u.)'], 15);
letter('d',13,362);

const fe = {x0:449,x1:759,y0:322,y1:569};
timePanel(fe, eBmi, ePpz, {x0:602,x1:629,yb:335,yr:351.5});
rich(svg,492,359,['2966 cm',{t:'-1'}],{size:12.5,anchor:'middle'});
rich(svg,509,376,['Hydrocarbons'],{size:12.5,anchor:'middle'});
yTitle(444, 440, ['Intensity (a.u.)'], 15);
letter('e',421,366);

const ff = {x0:798,x1:1108,y0:322,y1:568};
timePanel(ff, fBmi, fPpz, {x0:950,x1:978,yb:336,yr:351.5});
rich(svg,849,361,['2345 cm',{t:'-1'}],{size:12.5,anchor:'middle'});
rich(svg,843,377,['CO',{t:'2',sub:true}],{size:12.5,anchor:'middle'});
yTitle(791, 440, ['Intensity (a.u.)'], 15);
letter('f',771,364);

const fg = {x0:71,x1:381,y0:614,y1:866};
timePanel(fg, gBmi, gPpz, {x0:75,x1:103,yb:630,yr:645});
rich(svg,348,637,['2191 cm',{t:'-1'}],{size:12.5,anchor:'middle'});
rich(svg,348,651,['CO'],{size:12.5,anchor:'middle'});
yTitle(63, 745, ['Intensity (a.u.)'], 15);
letter('g',13,651);

const fh = {x0:453,x1:762,y0:617,y1:868};
timePanel(fh, hBmi, hPpz, {x0:602,x1:629,yb:636,yr:652});
rich(svg,517,641,['1513 cm',{t:'-1'}],{size:12.5,anchor:'middle'});
rich(svg,517,657,['Aromatic compounds'],{size:12.5,anchor:'middle'});
yTitle(446, 747, ['Intensity (a.u.)'], 15);
letter('h',420,650);

const fi = {x0:798,x1:1108,y0:617,y1:865};
timePanel(fi, iBmi, iPpz, {x0:950,x1:978,yb:629,yr:645});
rich(svg,1010,692,['1173 cm',{t:'-1'}],{size:12.5,anchor:'middle'});
rich(svg,1023,707,['Organonitrogen compounds'],{size:12.5,anchor:'middle'});
yTitle(791, 745, ['Intensity (a.u.)'], 15);
letter('i',773,648);
</script>
</body></html>
